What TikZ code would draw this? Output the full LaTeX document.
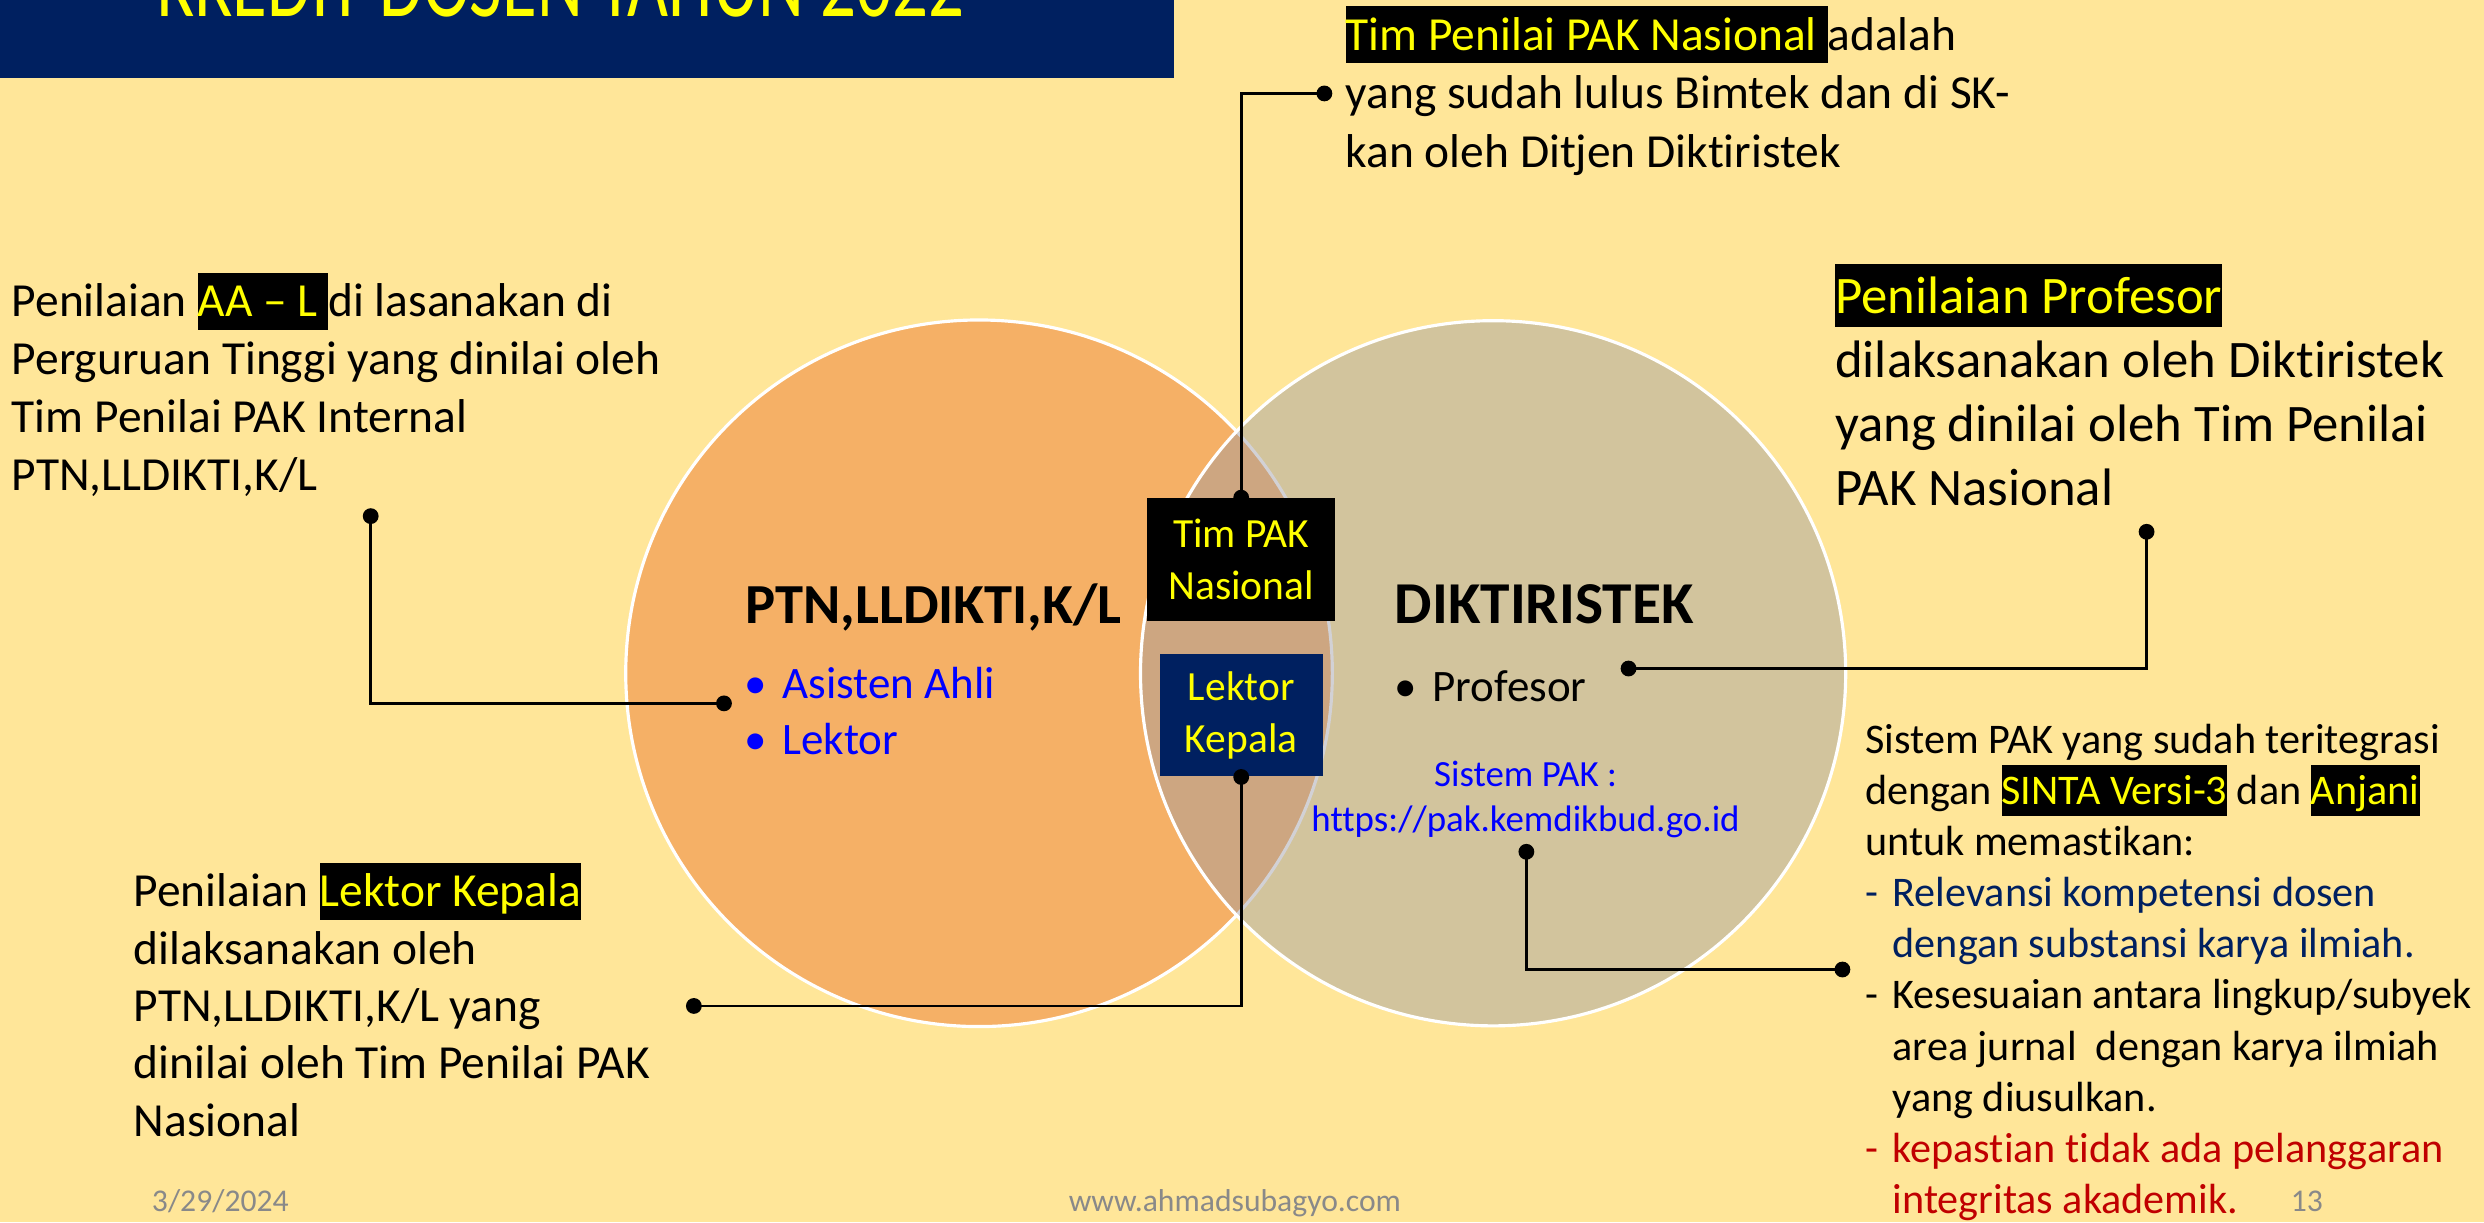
\documentclass[tikz,border=0pt]{standalone}
\usepackage{fontspec}
\setmainfont{Carlito}[Ligatures=NoCommon]
\newfontfamily\titlefont[FakeStretch=0.72,Ligatures=NoCommon]{Carlito}
\definecolor{bgyellow}{HTML}{FFE699}
\definecolor{navy}{HTML}{002060}
\definecolor{orangec}{HTML}{F5B066}
\definecolor{grayc}{HTML}{9D9BA2}
\definecolor{hlyellow}{HTML}{FFFF00}
\definecolor{footgray}{HTML}{898989}
\definecolor{darkred}{HTML}{C00000}
\definecolor{pureblue}{HTML}{0000FF}
\newcommand{\hlt}[1]{{\setlength{\fboxsep}{0pt}\colorbox{black}{\rule[-0.27em]{0pt}{1.2em}\textcolor{hlyellow}{#1}}}}
\newcommand{\dsh}{\makebox[0.65em][l]{-}}
\newcommand{\ind}{\hspace*{0.65em}}
\newcommand{\blt}{\makebox[0pt][c]{•}\hspace{0.6em}}
\tikzset{
  txt/.style={inner sep=0pt, anchor=base west, align=left},
  conn/.style={line width=0.8pt, draw=black},
  blob/.style={circle, fill=black, inner sep=0pt, minimum size=4.5pt},
  boxlbl/.style={inner sep=0pt, align=center, text=hlyellow, font=\fontsize{11.8}{14.7}\selectfont},
  venn/.style={circle, inner sep=0pt, draw=white, line width=0.9pt},
}
\begin{document}
\begin{tikzpicture}[x=0.015842cm, y=-0.015842cm]
\useasboundingbox (0,0) rectangle (1568,771.4);
\clip (0,0) rectangle (1568,771.4);
\fill[bgyellow] (0,0) rectangle (1568,771.4);
% title bar
\fill[navy] (0,-10) rectangle (741,49);
\node[anchor=base west, inner sep=0pt, text=hlyellow, font=\titlefont\fontsize{28}{30}\selectfont] (title) at (99,10.7) {KREDIT DOSEN TAHUN 2022};
% venn circles
\node[venn, minimum size=201pt, fill=orangec] (lc) at (618,425) {};
\node[venn, minimum size=200.6pt, fill=grayc, fill opacity=0.45, draw opacity=1] (rc) at (942.5,425) {};
% circle contents (base anchor = baseline of the last line)
\node[txt, font=\bfseries\fontsize{16.1}{19}\selectfont] (ptn) at (470,393.5) {PTN,LLDIKTI,K/L};
\node[txt, text=pureblue, font=\fontsize{12.8}{15.9}\selectfont] (aa) at (476.5,476.3) {\blt Asisten Ahli\\\blt Lektor};
\node[txt, font=\bfseries\fontsize{16.9}{19}\selectfont] (dk) at (880,393.5) {DIKTIRISTEK};
\node[txt, font=\fontsize{12.8}{15.9}\selectfont] (prof) at (886.8,443) {\blt Profesor};
\node[inner sep=0pt, anchor=base, align=center, text=pureblue, font=\fontsize{10.5}{12.8}\selectfont] (url) at (963,525) {Sistem PAK :\\https://pak.kemdikbud.go.id};
% boxes
\node[boxlbl, fill=black, minimum width=53.6pt, minimum height=34.8pt] (tpk) at (783.5,353.2) {Tim PAK\\Nasional};
\node[boxlbl, fill=navy, minimum width=46.4pt, minimum height=34.7pt] (lkp) at (783.5,451.5) {Lektor\\Kepala};
% callout texts
\node[txt, font=\fontsize{13.5}{16.5}\selectfont] (tl) at (7,309.8) {Penilaian \hlt{AA – L }di lasanakan di\\Perguruan Tinggi yang dinilai oleh\\Tim Penilai PAK Internal\\PTN,LLDIKTI,K/L};
\node[txt, font=\fontsize{13.5}{16.7}\selectfont] (tr) at (849,105.7) {\hlt{Tim Penilai PAK Nasional }adalah\\yang sudah lulus Bimtek dan di SK-\\kan oleh Ditjen Diktiristek};
\node[txt, font=\fontsize{15}{18.25}\selectfont] (pp) at (1158,319.2) {\hlt{Penilaian Profesor}\\dilaksanakan oleh Diktiristek\\yang dinilai oleh Tim Penilai\\PAK Nasional};
\node[txt, font=\fontsize{13.5}{16.3}\selectfont] (bl) at (84,717.1) {Penilaian \hlt{Lektor Kepala}\\dilaksanakan oleh\\PTN,LLDIKTI,K/L yang\\dinilai oleh Tim Penilai PAK\\Nasional};
\node[txt, font=\fontsize{12}{14.55}\selectfont] (br) at (1177,766) {Sistem PAK yang sudah teritegrasi\\dengan \hlt{SINTA Versi-3} dan \hlt{Anjani}\\untuk memastikan:\\\textcolor{navy}{\dsh Relevansi kompetensi dosen}\\\textcolor{navy}{\ind dengan substansi karya ilmiah.}\\\dsh Kesesuaian antara lingkup/subyek\\\ind area jurnal\ \ dengan karya ilmiah\\\ind yang diusulkan.\\\textcolor{darkred}{\dsh kepastian tidak ada pelanggaran}\\\textcolor{darkred}{\ind integritas akademik.}};
% footer
\node[txt, text=footgray, font=\fontsize{9}{11}\selectfont] (date) at (95.5,765) {3/29/2024};
\node[inner sep=0pt, anchor=base, text=footgray, font=\fontsize{9}{11}\selectfont] (web) at (779.5,765) {www.ahmadsubagyo.com};
\node[txt, text=footgray, font=\fontsize{9}{11}\selectfont] (pg) at (1445.6,765) {13};
% connector end points
\node[blob] (d1) at (tpk.north) {};
\node[blob] (d2) at (836,59) {};
\node[blob] (d3) at (lkp.south) {};
\node[blob] (d4) at (438,635) {};
\node[blob] (d5) at (457,444) {};
\node[blob] (d6) at (234,325.8) {};
\node[blob] (d7) at (1028,422) {};
\node[blob] (d8) at (1355,335.7) {};
\node[blob] (d9) at (963.5,537.7) {};
\node[blob] (d10) at (1163,612) {};
% connectors
\draw[conn] (d1.center) |- (d2.center);
\draw[conn] (d3.center) |- (d4.center);
\draw[conn] (d5.center) -| (d6.center);
\draw[conn] (d7.center) -| (d8.center);
\draw[conn] (d9.center) |- (d10.center);
\end{tikzpicture}
\end{document}
